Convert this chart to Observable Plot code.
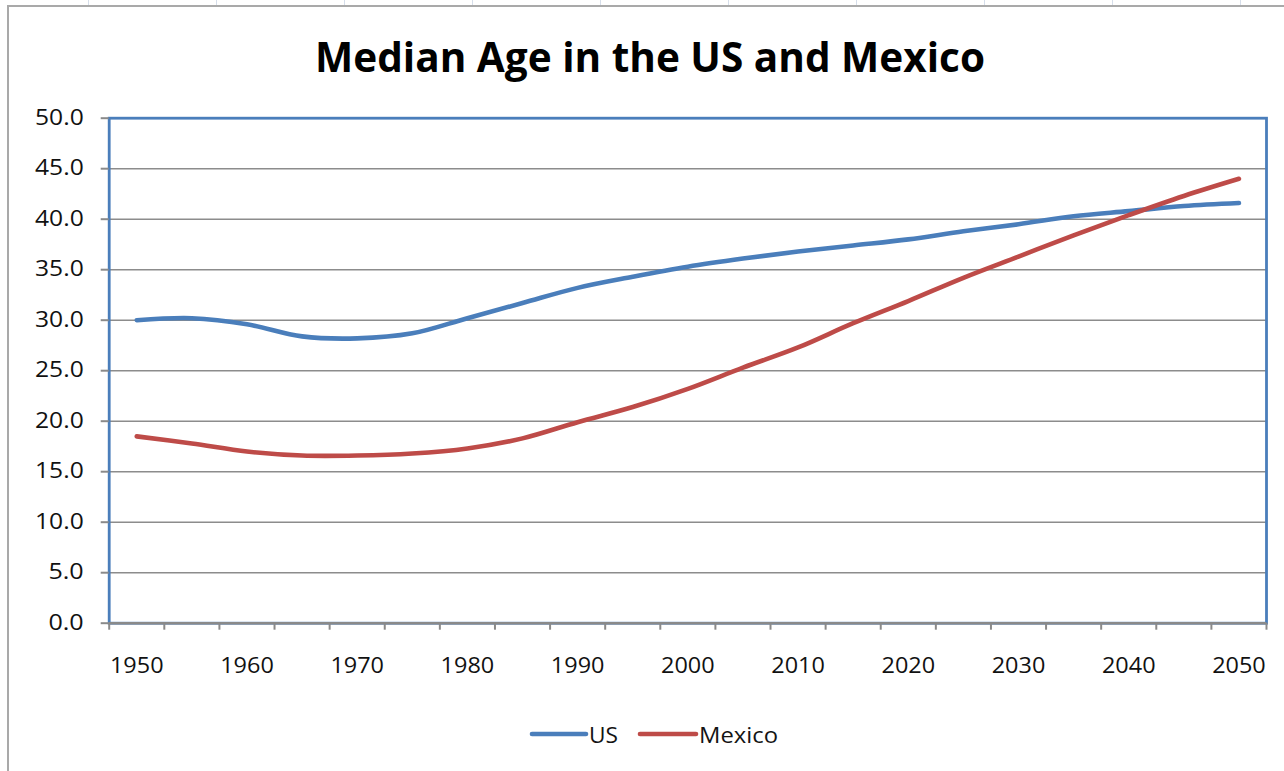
<!DOCTYPE html>
<html><head><meta charset="utf-8">
<script src="https://cdn.jsdelivr.net/npm/d3@7"></script>
<script src="https://cdn.jsdelivr.net/npm/@observablehq/plot@0.6"></script>
<style>
html,body{margin:0;padding:0;background:#fff;}
body{width:1284px;height:771px;overflow:hidden;position:relative;}
#frame{position:absolute;left:7px;top:5px;width:1400px;height:900px;border-left:2px solid #a9a9a9;border-top:2px solid #a9a9a9;}
.col{position:absolute;top:0;width:1px;height:5px;background:#d6deea;}
#chart{position:absolute;left:0;top:0;}
</style></head>
<body>
<div id="frame"></div>
<div id="chart"></div>
<script>
const years = [1950,1955,1960,1965,1970,1975,1980,1985,1990,1995,2000,2005,2010,2015,2020,2025,2030,2035,2040,2045,2050];
const us =     [30.0,30.2,29.6,28.4,28.2,28.7,30.2,31.7,33.2,34.3,35.3,36.1,36.8,37.4,38.0,38.8,39.5,40.3,40.8,41.3,41.6];
const mexico = [18.5,17.8,17.0,16.6,16.6,16.8,17.3,18.3,19.9,21.4,23.2,25.3,27.3,29.7,31.9,34.2,36.3,38.4,40.4,42.3,44.0];
const seriesNames = ["US","Mexico"];
const seriesColors = ["#4a7ebb","#be4b48"];
const yTicks = [0,5,10,15,20,25,30,35,40,45,50];
const xLabels = [1950,1960,1970,1980,1990,2000,2010,2020,2030,2040,2050];
const titleText = "Median Age in the US and Mexico";

// spreadsheet column separators above chart area
[88,216,344,472,600,728,856,984,1112,1240].forEach(x=>{
  const d=document.createElement("div"); d.className="col"; d.style.left=x+"px"; document.body.appendChild(d);
});

const data = years.flatMap((yr,i)=>[
  {year:yr, age:us[i], country:"US"},
  {year:yr, age:mexico[i], country:"Mexico"}
]);
const step = 5;
const catBounds = d3.range(years.length+1).map(i=>years[0]-step/2+step*i);

const fontFam = "'Open Sans', sans-serif";
const plot = Plot.plot({
  width:1284, height:771,
  marginLeft:108.7, marginRight:18, marginTop:117.7, marginBottom:148.3,
  style:{fontFamily:fontFam, fontSize:"21px", color:"#111", background:"transparent", overflow:"visible"},
  x:{domain:[catBounds[0], catBounds[catBounds.length-1]]},
  y:{domain:[0,50]},
  color:{domain:seriesNames, range:seriesColors},
  marks:[
    Plot.gridY(yTicks.filter(v=>v>0&&v<50), {stroke:"#8c8c8c", strokeOpacity:1, strokeWidth:1.6}),
    Plot.line(data, {x:"year", y:"age", stroke:"country", z:"country", curve:"catmull-rom", strokeWidth:4.6, strokeLinecap:"round", strokeLinejoin:"round"}),
    Plot.frame({stroke:"#4a7ebb", strokeWidth:2.8}),
    Plot.ruleY([0], {stroke:"#8a8a8a", strokeWidth:2.4}),
    Plot.axisY(yTicks, {tickSize:8, tickPadding:17.5, tickFormat:d=>d.toFixed(1), stroke:"#8a8a8a", strokeWidth:2, label:null, className:"yax"}),
    Plot.axisX(catBounds, {tickSize:7, tickFormat:()=>"", stroke:"#8a8a8a", strokeWidth:2, label:null}),
    Plot.axisX(xLabels, {tickSize:0, tickPadding:35, tickFormat:d=>String(d), label:null, className:"xax"})
  ]
});
document.getElementById("chart").appendChild(plot);

const svg = d3.select(plot);
// widen tick labels slightly (ClearType-like metrics)
svg.selectAll(".yax text, .xax text").each(function(){
  const t = this.textContent;
  const digits = t.replace(/[^0-9]/g,"").length;
  const dots = t.length - digits;
  d3.select(this).attr("textLength", digits*13.4 + dots*8.5).attr("lengthAdjust","spacingAndGlyphs");
});
// title
svg.append("text").attr("x",650).attr("y",72).attr("text-anchor","middle")
  .attr("font-family",fontFam).attr("font-weight",700).attr("font-size",42)
  .attr("fill","#000").attr("textLength",670).attr("lengthAdjust","spacingAndGlyphs")
  .text(titleText);
// legend
const leg = [{x1:532,x2:586,tx:589,tw:29},{x1:640,x2:696,tx:699,tw:79}];
seriesNames.forEach((name,i)=>{
  const L=leg[i];
  svg.append("line").attr("x1",L.x1).attr("x2",L.x2).attr("y1",734).attr("y2",734)
    .attr("stroke",seriesColors[i]).attr("stroke-width",4.6).attr("stroke-linecap","round");
  svg.append("text").attr("x",L.tx).attr("y",742.5).attr("text-anchor","start").attr("font-family",fontFam).attr("font-size",22)
    .attr("fill","#141414").attr("textLength",L.tw).attr("lengthAdjust","spacingAndGlyphs").text(name);
});
</script>
</body></html>
